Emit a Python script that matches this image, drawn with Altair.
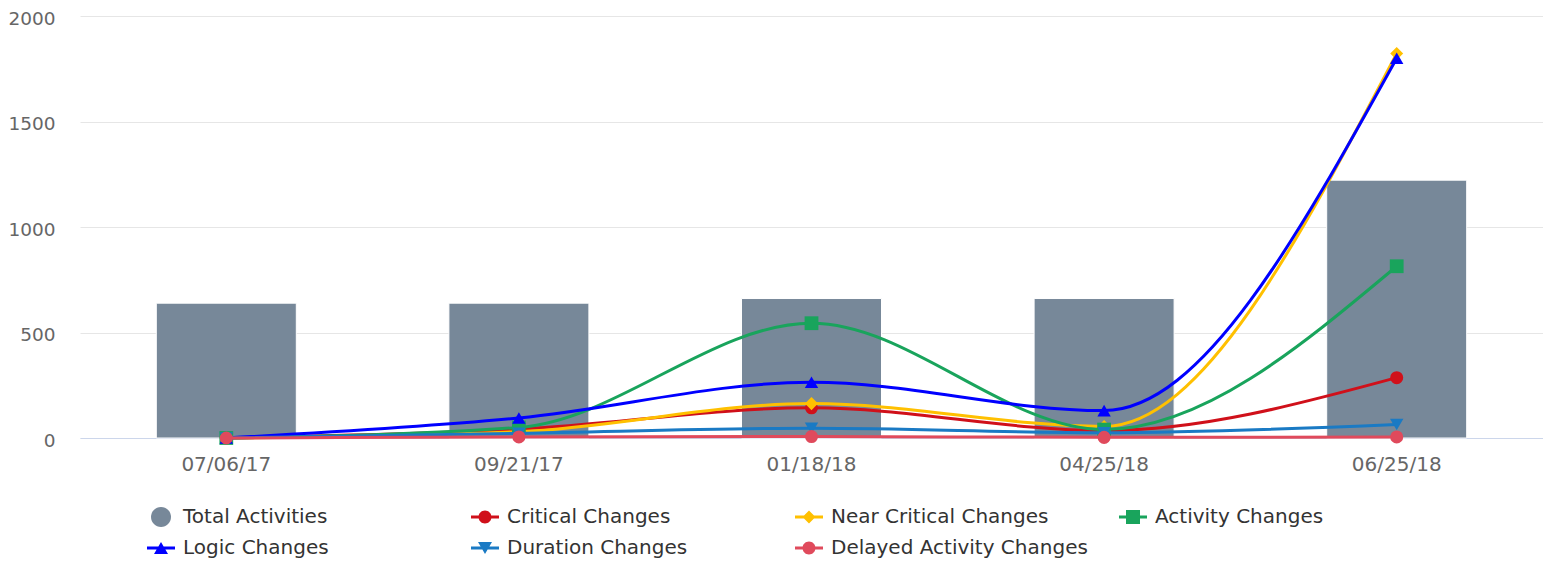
import altair as alt
import pandas as pd

dates = ["07/06/17", "09/21/17", "01/18/18", "04/25/18", "06/25/18"]
total_activities = [639, 639, 661, 661, 1222]
critical_changes = [0, 42, 143, 35, 286]
near_critical_changes = [0, 30, 163, 55, 1822]
activity_changes = [0, 50, 544, 40, 814]
logic_changes = [0, 95, 264, 130, 1800]
duration_changes = [0, 22, 46, 25, 64]
delayed_activity_changes = [0, 5, 7, 3, 5]

series_names = ["Total Activities", "Critical Changes", "Near Critical Changes",
                "Activity Changes", "Logic Changes", "Duration Changes",
                "Delayed Activity Changes"]
series_colors = ["#778899", "#d0101a", "#ffc000", "#19a45c", "#0000ff", "#1a7ac4", "#e04a5c"]
line_series = [
    ("Critical Changes", critical_changes, "#d0101a", "circle", 170),
    ("Near Critical Changes", near_critical_changes, "#ffc000", "diamond", 170),
    ("Activity Changes", activity_changes, "#19a45c", "square", 190),
    ("Logic Changes", logic_changes, "#0000ff", "triangle-up", 180),
    ("Duration Changes", duration_changes, "#1a7ac4", "triangle-down", 180),
    ("Delayed Activity Changes", delayed_activity_changes, "#e04a5c", "circle", 170),
]

# legend symbol paths (unit coordinates, scaled by the legend symbol size)
LINE = "M -1 -0.107 H 1 V 0.107 H -1 Z "
def circ(r):
    return f"M {-r} 0 A {r} {r} 0 1 1 {r} 0 A {r} {r} 0 1 1 {-r} 0 Z"
legend_paths = [
    circ(0.714),
    LINE + circ(0.464),
    LINE + "M 0 -0.464 L 0.464 0 L 0 0.464 L -0.464 0 Z",
    LINE + "M -0.5 -0.5 H 0.5 V 0.5 H -0.5 Z",
    LINE + "M 0 -0.43 L 0.5 0.43 L -0.5 0.43 Z",
    LINE + "M -0.5 -0.43 L 0.5 -0.43 L 0 0.43 Z",
    LINE + circ(0.464),
]

FONT = "DejaVu Sans"

x_enc = alt.X("date:N", sort=dates,
              scale=alt.Scale(domain=dates, paddingInner=0, paddingOuter=0),
              axis=alt.Axis(title=None, labelAngle=0, labelFont=FONT, labelFontSize=20,
                            labelColor="#666666", labelPadding=16, ticks=False,
                            domainColor="#ccd6eb", domainWidth=1, grid=False))
y_enc = alt.Y("value:Q", scale=alt.Scale(domain=[0, 2000], nice=False),
              axis=alt.Axis(title=None, values=[0, 500, 1000, 1500, 2000], format="d",
                            labelFont=FONT, labelFontSize=18.5, labelColor="#666666",
                            labelPadding=25, labelOffset=2, ticks=False, domain=False,
                            grid=True, gridColor="#e6e6e6", gridWidth=1))

bar_df = pd.DataFrame({"date": dates, "value": total_activities})
bars = alt.Chart(bar_df).mark_bar(width=140, color="#778899", stroke="#ffffff",
                                  strokeWidth=1).encode(x=x_enc, y=y_enc)

layers = [bars]
for name, vals, col, shape, size in line_series:
    df = pd.DataFrame({"date": dates, "value": vals, "series": name})
    base = alt.Chart(df).encode(x=x_enc, y=y_enc)
    layers.append(base.mark_line(strokeWidth=3, interpolate="monotone", color=col))
    layers.append(base.mark_point(filled=True, shape=shape, size=size, opacity=1,
                                  strokeWidth=0, color=col))

legend_df = pd.DataFrame({"date": [dates[0]] * len(series_names),
                          "value": [None] * len(series_names),
                          "series": series_names})
legend_props = dict(title=None, orient="none", legendX=67, legendY=487,
                    direction="horizontal", columns=4, gridAlign="all",
                    columnPadding=31, rowPadding=7, symbolSize=784,
                    symbolStrokeWidth=0, symbolOpacity=1, labelFont=FONT,
                    labelFontSize=20, labelColor="#333333", labelLimit=400,
                    labelOffset=8, padding=0)
legend_layer = alt.Chart(legend_df).transform_filter("datum.value != null").mark_point(
    filled=True, opacity=1).encode(
    x=x_enc, y=y_enc,
    color=alt.Color("series:N", scale=alt.Scale(domain=series_names, range=series_colors),
                    legend=alt.Legend(**legend_props)),
    shape=alt.Shape("series:N", scale=alt.Scale(domain=series_names, range=legend_paths),
                    legend=alt.Legend(**legend_props)),
)
layers.append(legend_layer)

chart = alt.layer(*layers).properties(
    width=1463, height=422,
    autosize=alt.AutoSizeParams(type="none"),
    padding={"left": 72, "top": 8, "right": 0, "bottom": 125},
    background="#ffffff",
).configure_view(stroke=None)

chart.save("out.html", embed_options={"renderer": "svg", "actions": False})
